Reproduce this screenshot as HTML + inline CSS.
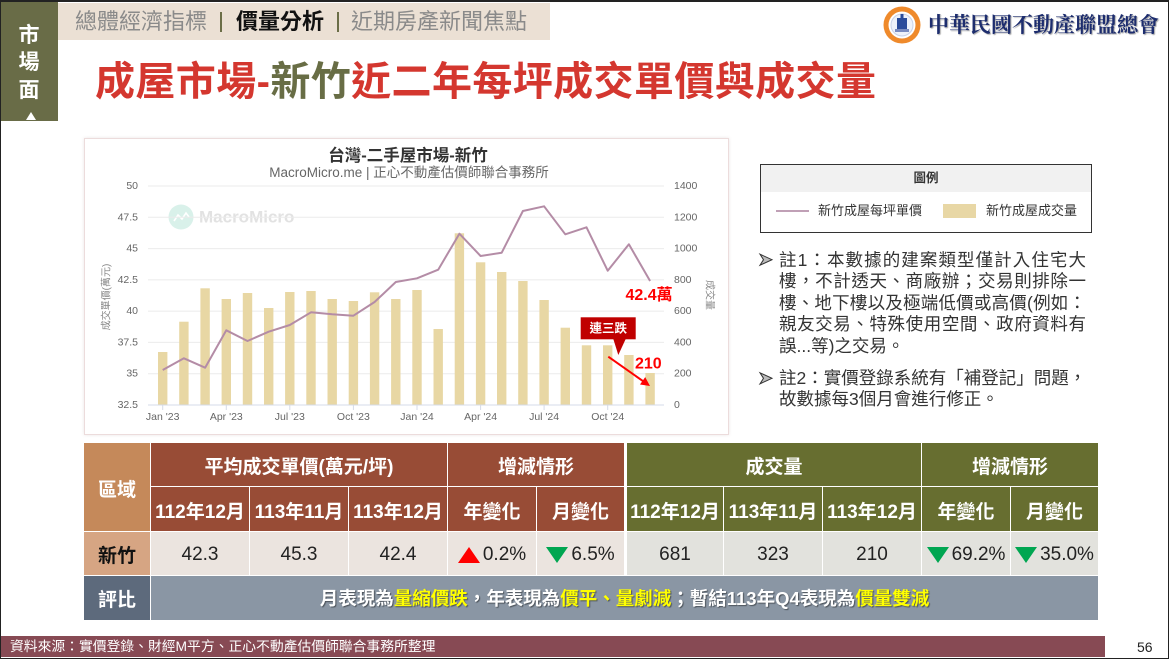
<!DOCTYPE html>
<html><head><meta charset="utf-8">
<style>
*{margin:0;padding:0;box-sizing:border-box}
html,body{width:1169px;height:659px;overflow:hidden;background:#fff}
body{position:relative;font-family:"Liberation Sans","Noto Sans CJK TC",sans-serif}
.a{position:absolute}
.tab{position:absolute;left:0;width:58px;height:24px;line-height:24px;text-align:center;color:#fff;font-weight:bold;font-size:21px}
.bc{position:absolute;top:3px;height:37px;line-height:37px;font-size:22px;color:#8a8a8a;white-space:nowrap}
.sep{position:absolute;top:12px;width:2px;height:20px;background:#6b6e47}
.nl{position:absolute;left:779px;height:22px;line-height:22px;font-size:17.5px;color:#333;white-space:nowrap}
.j{text-align:justify;text-align-last:justify}
.c{position:absolute;display:flex;align-items:center;justify-content:center;color:#fff;font-weight:bold;font-size:19px;white-space:nowrap}
.h{background:#984c36;padding-top:2px}
.o{background:#676e30;padding-top:2px}
.pd{background:#ebe4df;color:#222;font-weight:normal;padding-top:2px}
.vd{background:#e2e2dd;color:#222;font-weight:normal;padding-top:2px}
.ic{display:inline-flex;align-items:center;gap:3px}
.y{color:#ffff00}
</style></head><body>

<!-- left tab -->
<div class="a" style="left:0;top:0;width:58px;height:121px;background:#696c47"></div>
<div class="tab" style="top:24px">市</div>
<div class="tab" style="top:51px">場</div>
<div class="tab" style="top:79px">面</div>
<div class="a" style="left:26px;top:112px;width:0;height:0;border-left:5px solid transparent;border-right:5px solid transparent;border-bottom:8px solid #fff"></div>

<!-- breadcrumb -->
<div class="a" style="left:58px;top:3px;width:492px;height:37px;background:#ebe0d4"></div>
<div class="bc" style="left:75px">總體經濟指標</div>
<div class="sep" style="left:220px"></div>
<div class="bc" style="left:236px;color:#111;font-weight:bold">價量分析</div>
<div class="sep" style="left:337px"></div>
<div class="bc" style="left:351px">近期房產新聞焦點</div>

<!-- title -->
<div class="a" style="left:95px;top:61px;height:42px;line-height:42px;font-size:40px;font-weight:bold;color:#d4372f;white-space:nowrap;letter-spacing:0.4px">成屋市場-<span style="color:#686d45">新竹</span>近二年每坪成交單價與成交量</div>

<!-- logo -->
<svg class="a" style="left:882px;top:5px" width="40" height="40" viewBox="0 0 40 40">
<circle cx="20" cy="20" r="18.5" fill="#ef8a2b"/>
<circle cx="20" cy="20" r="13.5" fill="#fff"/>
<circle cx="20" cy="20" r="11" fill="#eef2fa" stroke="#c8d2e8" stroke-width="1"/>
<rect x="15" y="13" width="10" height="11" fill="#2b4c9b"/>
<rect x="18.5" y="9" width="3" height="5" fill="#2b4c9b"/>
<rect x="13" y="24" width="14" height="3" fill="#7a8cc0"/>
</svg>
<div class="a" style="left:928px;top:11px;height:28px;line-height:28px;font-size:21px;font-weight:bold;color:#1d2d6e;font-family:'Liberation Serif','Noto Serif CJK SC',serif;white-space:nowrap;text-shadow:1px 1px 1px rgba(0,0,0,.35)">中華民國不動產聯盟總會</div>

<!-- chart card -->
<div class="a" style="left:84px;top:138px;width:645px;height:297px;border:1px solid #ecdcdc;box-shadow:0 0 3px rgba(120,80,80,.15);background:#fff"></div>

<svg class="a" style="left:0;top:0" width="1169" height="659" viewBox="0 0 1169 659" font-family="Liberation Sans, Noto Sans CJK TC, sans-serif">
<!-- chart titles -->
<text x="408" y="156" text-anchor="middle" dominant-baseline="central" font-size="16.5" font-weight="bold" fill="#333">台灣-二手屋市場-新竹</text>
<text x="409" y="172.5" text-anchor="middle" dominant-baseline="central" font-size="13.5" fill="#666">MacroMicro.me | 正心不動產估價師聯合事務所</text>
<!-- watermark -->
<circle cx="181" cy="217" r="12.5" fill="#d9f1ea"/>
<polyline points="174,221 178,215 182,219 186,213 189,217" fill="none" stroke="#fff" stroke-width="1.6"/>
<text x="199" y="217" dominant-baseline="central" font-size="17" font-weight="bold" fill="#e2e2e2">MacroMicro</text>
<!-- grid -->
<g stroke="#ebebeb" stroke-width="1">
<line x1="148" y1="186" x2="664" y2="186"/>
<line x1="148" y1="217.3" x2="664" y2="217.3"/>
<line x1="148" y1="248.6" x2="664" y2="248.6"/>
<line x1="148" y1="279.9" x2="664" y2="279.9"/>
<line x1="148" y1="311.1" x2="664" y2="311.1"/>
<line x1="148" y1="342.4" x2="664" y2="342.4"/>
<line x1="148" y1="373.7" x2="664" y2="373.7"/>
</g>
<!-- bars -->
<g fill="#e8d7a4">
<rect x="158.0" y="352" width="9.4" height="53"/>
<rect x="179.2" y="321.7" width="9.4" height="83.3"/>
<rect x="200.4" y="288.3" width="9.4" height="116.7"/>
<rect x="221.6" y="299" width="9.4" height="106"/>
<rect x="242.8" y="293" width="9.4" height="112"/>
<rect x="264.0" y="308" width="9.4" height="97"/>
<rect x="285.1" y="292" width="9.4" height="113"/>
<rect x="306.3" y="291" width="9.4" height="114"/>
<rect x="327.5" y="299" width="9.4" height="106"/>
<rect x="348.7" y="301" width="9.4" height="104"/>
<rect x="369.9" y="292.3" width="9.4" height="112.7"/>
<rect x="391.1" y="299" width="9.4" height="106"/>
<rect x="412.3" y="290" width="9.4" height="115"/>
<rect x="433.5" y="329" width="9.4" height="76"/>
<rect x="454.7" y="233.3" width="9.4" height="171.7"/>
<rect x="475.9" y="262.3" width="9.4" height="142.7"/>
<rect x="497.0" y="272" width="9.4" height="133"/>
<rect x="518.2" y="281" width="9.4" height="124"/>
<rect x="539.4" y="300" width="9.4" height="105"/>
<rect x="560.6" y="327.7" width="9.4" height="77.3"/>
<rect x="581.8" y="345.3" width="9.4" height="59.7"/>
<rect x="603.0" y="345.3" width="9.4" height="59.7"/>
<rect x="624.2" y="355" width="9.4" height="50"/>
<rect x="645.4" y="373" width="9.4" height="32"/>
</g>
<!-- axis -->
<line x1="148" y1="405" x2="664" y2="405" stroke="#d5dbe8" stroke-width="1"/>
<g stroke="#d5dbe8" stroke-width="1">
<line x1="162.7" y1="405" x2="162.7" y2="410"/>
<line x1="226.3" y1="405" x2="226.3" y2="410"/>
<line x1="289.8" y1="405" x2="289.8" y2="410"/>
<line x1="353.4" y1="405" x2="353.4" y2="410"/>
<line x1="417" y1="405" x2="417" y2="410"/>
<line x1="480.6" y1="405" x2="480.6" y2="410"/>
<line x1="544.1" y1="405" x2="544.1" y2="410"/>
<line x1="607.7" y1="405" x2="607.7" y2="410"/>
</g>
<!-- line -->
<polyline fill="none" stroke="#b48ca6" stroke-width="2" stroke-linejoin="round" points="162.7,370 183.9,358.3 205.1,367.7 226.3,330.3 247.5,341 268.7,331.7 289.8,325 311,312.3 332.2,314.3 353.4,315.7 374.6,302 395.8,282 417,278.3 438.2,269.7 459.4,233.7 480.6,256 501.7,252.7 522.9,211 544.1,206.3 565.3,234.3 586.5,227.3 607.7,270.7 628.9,244.3 650.1,281"/>
<!-- left labels -->
<g font-size="10.5" fill="#666" text-anchor="end" dominant-baseline="central">
<text x="138" y="186">50</text>
<text x="138" y="217.3">47.5</text>
<text x="138" y="248.6">45</text>
<text x="138" y="279.9">42.5</text>
<text x="138" y="311.1">40</text>
<text x="138" y="342.4">37.5</text>
<text x="138" y="373.7">35</text>
<text x="138" y="405">32.5</text>
</g>
<g font-size="10.5" fill="#666" dominant-baseline="central">
<text x="674" y="186">1400</text>
<text x="674" y="217.3">1200</text>
<text x="674" y="248.6">1000</text>
<text x="674" y="279.9">800</text>
<text x="674" y="311.1">600</text>
<text x="674" y="342.4">400</text>
<text x="674" y="373.7">200</text>
<text x="674" y="405">0</text>
</g>
<g font-size="10.5" fill="#666" text-anchor="middle" dominant-baseline="central">
<text x="162.7" y="417">Jan '23</text>
<text x="226.3" y="417">Apr '23</text>
<text x="289.8" y="417">Jul '23</text>
<text x="353.4" y="417">Oct '23</text>
<text x="417" y="417">Jan '24</text>
<text x="480.6" y="417">Apr '24</text>
<text x="544.1" y="417">Jul '24</text>
<text x="607.7" y="417">Oct '24</text>
</g>
<text transform="translate(107,297) rotate(-90)" text-anchor="middle" dominant-baseline="central" font-size="10" fill="#888">成交單價(萬元)</text>
<text transform="translate(709,295) rotate(90)" text-anchor="middle" dominant-baseline="central" font-size="10" fill="#888">成交量</text>
<!-- annotations -->
<text x="625.5" y="295.5" dominant-baseline="central" font-size="16" font-weight="bold" fill="#ff0000">42.4萬</text>
<rect x="580.7" y="317.3" width="55" height="22" fill="#c00000"/>
<polygon points="613.3,339 625.7,339 618.3,355" fill="#c00000"/>
<text x="608.2" y="328.5" text-anchor="middle" dominant-baseline="central" font-size="12.5" font-weight="bold" fill="#fff">連三跌</text>
<text x="635" y="364" dominant-baseline="central" font-size="16" font-weight="bold" fill="#ff0000">210</text>
<line x1="608.3" y1="356.7" x2="644" y2="381.8" stroke="#ff0000" stroke-width="2"/>
<polygon points="650,386 645.2,377.1 640,384.5" fill="#ff0000"/>
<!-- bullets -->
<polygon points="760,254.2 772,259.7 760,265.2 763.5,259.7" fill="#bbb" stroke="#333" stroke-width="1"/>
<polygon points="760,372.8 772,378.3 760,383.8 763.5,378.3" fill="#bbb" stroke="#333" stroke-width="1"/>
</svg>

<!-- legend -->
<div class="a" style="left:760px;top:164px;width:332px;height:69px;border:1px solid #333;background:#fff"></div>
<div class="a" style="left:761px;top:165px;width:330px;height:27px;background:#f1f1f1;text-align:center;line-height:27px;font-size:12.5px;font-weight:bold;color:#333">圖例</div>
<div class="a" style="left:776px;top:210px;width:33px;height:2px;background:#c0a0b6"></div>
<div class="a" style="left:818px;top:201px;height:20px;line-height:20px;font-size:13px;color:#333;white-space:nowrap">新竹成屋每坪單價</div>
<div class="a" style="left:943px;top:204px;width:33px;height:14px;background:#e8d7a5"></div>
<div class="a" style="left:986px;top:201px;height:20px;line-height:20px;font-size:13px;color:#333;white-space:nowrap">新竹成屋成交量</div>

<!-- notes -->
<div class="nl j" style="top:249px;width:307px">註1：本數據的建案類型僅計入住宅大</div>
<div class="nl j" style="top:270px;width:307px">樓，不計透天、商廠辦；交易則排除一</div>
<div class="nl j" style="top:292px;width:307px">樓、地下樓以及極端低價或高價(例如：</div>
<div class="nl j" style="top:313px;width:307px">親友交易、特殊使用空間、政府資料有</div>
<div class="nl" style="top:335px">誤...等)之交易。</div>
<div class="nl j" style="top:367px;width:296px">註2：實價登錄系統有「補登記」問題，</div>
<div class="nl" style="top:388px">故數據每3個月會進行修正。</div>

<!-- table -->
<div class="c" style="left:84px;top:443px;width:66px;height:88px;background:#c5895a;padding-top:2px">區域</div>
<div class="c" style="left:84px;top:532px;width:66px;height:43px;background:#d6a583;color:#111;padding-top:2px">新竹</div>
<div class="c" style="left:84px;top:576px;width:66px;height:44px;background:#5d6a7c">評比</div>

<div class="c h" style="left:151px;top:443px;width:296px;height:43px">平均成交單價(萬元/坪)</div>
<div class="c h" style="left:448px;top:443px;width:176px;height:43px">增減情形</div>
<div class="c h" style="left:151px;top:487px;width:98px;height:44px">112年12月</div>
<div class="c h" style="left:250px;top:487px;width:98px;height:44px">113年11月</div>
<div class="c h" style="left:349px;top:487px;width:98px;height:44px">113年12月</div>
<div class="c h" style="left:448px;top:487px;width:88px;height:44px">年變化</div>
<div class="c h" style="left:537px;top:487px;width:87px;height:44px">月變化</div>
<div class="c pd" style="left:151px;top:532px;width:98px;height:43px">42.3</div>
<div class="c pd" style="left:250px;top:532px;width:98px;height:43px">45.3</div>
<div class="c pd" style="left:349px;top:532px;width:98px;height:43px">42.4</div>
<div class="c pd" style="left:448px;top:532px;width:88px;height:43px"><span class="ic"><svg width="22" height="16"><polygon points="11,0 22,16 0,16" fill="#ff0000"/></svg>0.2%</span></div>
<div class="c pd" style="left:537px;top:532px;width:87px;height:43px"><span class="ic"><svg width="22" height="16"><polygon points="0,0 22,0 11,16" fill="#00a651"/></svg>6.5%</span></div>

<div class="c o" style="left:627px;top:443px;width:294px;height:43px">成交量</div>
<div class="c o" style="left:922px;top:443px;width:176px;height:43px">增減情形</div>
<div class="c o" style="left:627px;top:487px;width:96px;height:44px">112年12月</div>
<div class="c o" style="left:724px;top:487px;width:98px;height:44px">113年11月</div>
<div class="c o" style="left:823px;top:487px;width:98px;height:44px">113年12月</div>
<div class="c o" style="left:922px;top:487px;width:88px;height:44px">年變化</div>
<div class="c o" style="left:1011px;top:487px;width:87px;height:44px">月變化</div>
<div class="c vd" style="left:627px;top:532px;width:96px;height:43px">681</div>
<div class="c vd" style="left:724px;top:532px;width:98px;height:43px">323</div>
<div class="c vd" style="left:823px;top:532px;width:98px;height:43px">210</div>
<div class="c vd" style="left:922px;top:532px;width:88px;height:43px"><span class="ic"><svg width="22" height="16"><polygon points="0,0 22,0 11,16" fill="#00a651"/></svg>69.2%</span></div>
<div class="c vd" style="left:1011px;top:532px;width:87px;height:43px"><span class="ic"><svg width="22" height="16"><polygon points="0,0 22,0 11,16" fill="#00a651"/></svg>35.0%</span></div>

<div class="c" style="left:151px;top:576px;width:947px;height:44px;background:#8a96a4;font-size:18.5px;text-shadow:1px 1px 1px rgba(0,0,0,.45)">月表現為<span class="y">量縮價跌</span>，年表現為<span class="y">價平、量劇減</span>；暫結113年Q4表現為<span class="y">價量雙減</span></div>

<!-- footer -->
<div class="a" style="left:0;top:636px;width:1105px;height:21px;background:#874a54"></div>
<div class="a" style="left:10px;top:637px;height:20px;line-height:20px;font-size:13.8px;color:#fff;white-space:nowrap">資料來源：實價登錄、財經M平方、正心不動產估價師聯合事務所整理</div>
<div class="a" style="left:1137px;top:637px;height:20px;line-height:20px;font-size:14px;color:#222">56</div>

<!-- frame -->
<div class="a" style="left:0;top:0;width:1169px;height:659px;border:1px solid #222;border-top-width:2px;pointer-events:none"></div>
</body></html>
